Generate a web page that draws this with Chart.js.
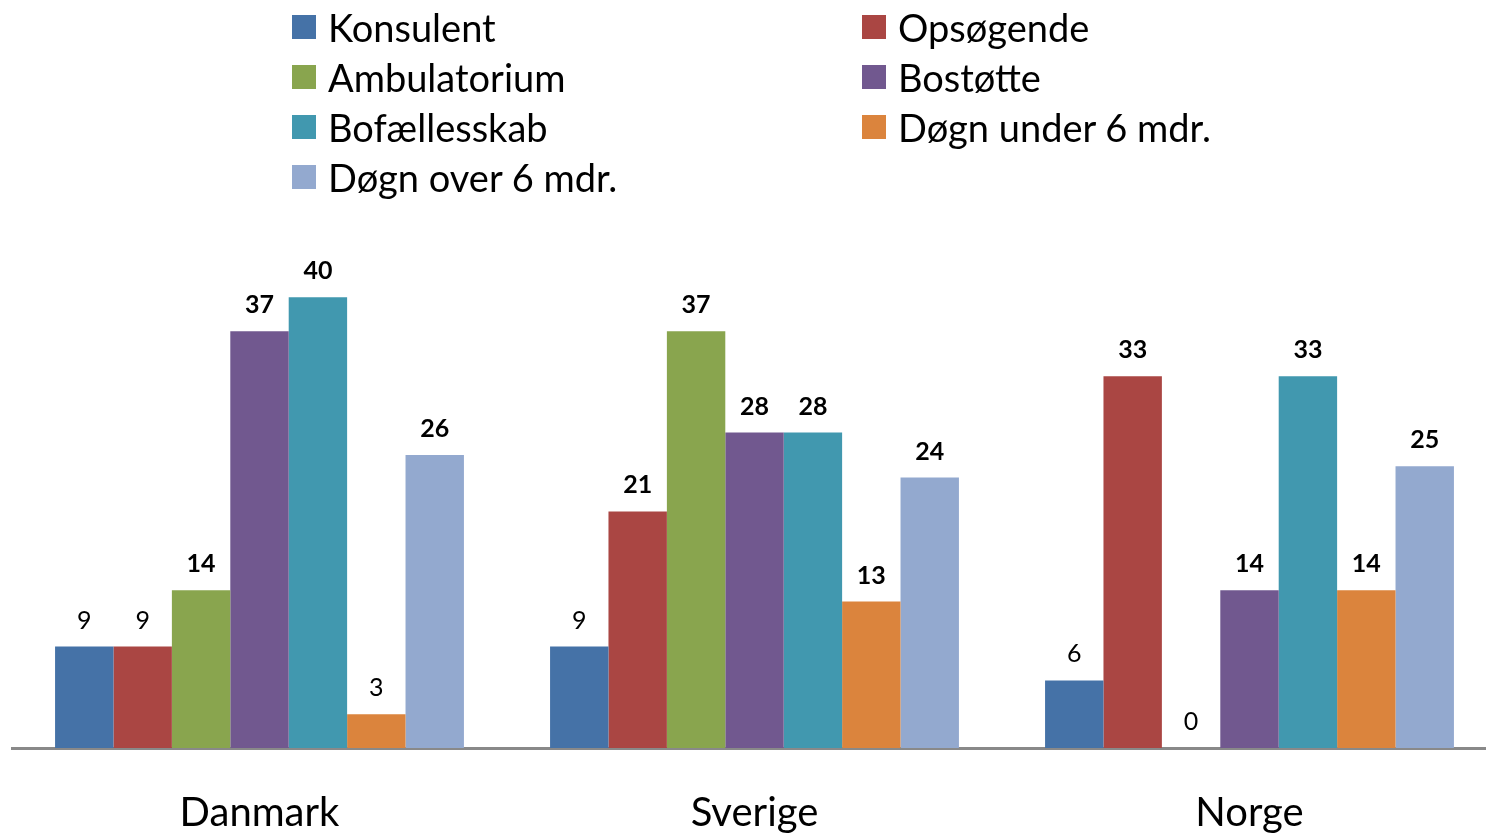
<!DOCTYPE html>
<html>
<head>
<meta charset="utf-8">
<script src="https://cdn.jsdelivr.net/npm/chart.js@4"></script>
<style>
  body { margin: 0; background: #fff; overflow: hidden; }
  #wrap { position: relative; width: 1486px; height: 837px; overflow: hidden; }
  #legend { position: absolute; left: 0; top: 0; font-family: Lato, sans-serif; font-size: 38px; color: #000; }
  .item { position: absolute; height: 50px; display: flex; align-items: center; white-space: nowrap; }
  .box { width: 24px; height: 24px; margin-right: 12px; }
</style>
</head>
<body>
<div id="wrap">
  <canvas id="myChart" width="1500" height="878"></canvas>
  <div id="legend"></div>
</div>
<script>
const countries = ['Danmark', 'Sverige', 'Norge'];

const konsulent = [9, 9, 6];
const opsoegende = [9, 21, 33];
const ambulatorium = [14, 37, 0];
const bostoette = [37, 28, 14];
const bofaellesskab = [40, 28, 33];
const doegnUnder = [3, 13, 14];
const doegnOver = [26, 24, 25];

let reports = [
  { label: 'Konsulent', data: konsulent, backgroundColor: '#4572A7' },
  { label: 'Opsøgende', data: opsoegende, backgroundColor: '#AA4643' },
  { label: 'Ambulatorium', data: ambulatorium, backgroundColor: '#89A54E' },
  { label: 'Bostøtte', data: bostoette, backgroundColor: '#71588F' },
  { label: 'Bofællesskab', data: bofaellesskab, backgroundColor: '#4198AF' },
  { label: 'Døgn under 6 mdr.', data: doegnUnder, backgroundColor: '#DB843D' },
  { label: 'Døgn over 6 mdr.', data: doegnOver, backgroundColor: '#93A9CF' }
];

// legend in two columns, filled row by row
const legend = document.getElementById('legend');
reports.forEach(function (ds, i) {
  const el = document.createElement('div');
  el.className = 'item';
  el.style.left = (i % 2 === 0 ? 292 : 862) + 'px';
  el.style.top = (2 + Math.floor(i / 2) * 50) + 'px';
  el.innerHTML = '<div class="box" style="background:' + ds.backgroundColor + '"></div><span></span>';
  el.querySelector('span').textContent = ds.label;
  legend.appendChild(el);
});

// value labels above the bars
const valueLabels = {
  id: 'valueLabels',
  afterDatasetsDraw(chart) {
    const c = chart.ctx;
    c.save();
    c.fillStyle = '#000';
    c.textAlign = 'center';
    c.textBaseline = 'middle';
    chart.data.datasets.forEach(function (ds, i) {
      chart.getDatasetMeta(i).data.forEach(function (bar, j) {
        const v = ds.data[j];
        c.font = (v >= 10 ? 'bold ' : '') + '25px Lato, sans-serif';
        c.fillText(String(v), bar.x, bar.y - 26);
      });
    });
    c.restore();
  }
};

const ctx = document.getElementById('myChart');

new Chart(ctx, {
  type: 'bar',
  data: {
    labels: countries,
    datasets: reports
  },
  options: {
    responsive: false,
    animation: false,
    categoryPercentage: 0.826,
    barPercentage: 1,
    layout: { padding: { top: 241, left: 12, right: 3, bottom: 0 } },
    plugins: {
      legend: { display: false },
      tooltip: { enabled: false }
    },
    scales: {
      x: {
        grid: { display: false, drawTicks: false },
        border: { color: '#898989', width: 3 },
        ticks: {
          color: '#000',
          padding: 41,
          font: { family: 'Lato, sans-serif', size: 40, lineHeight: 1.2 }
        }
      },
      y: {
        display: false,
        min: 0,
        max: 45
      }
    }
  },
  plugins: [valueLabels]
});
</script>
</body>
</html>
